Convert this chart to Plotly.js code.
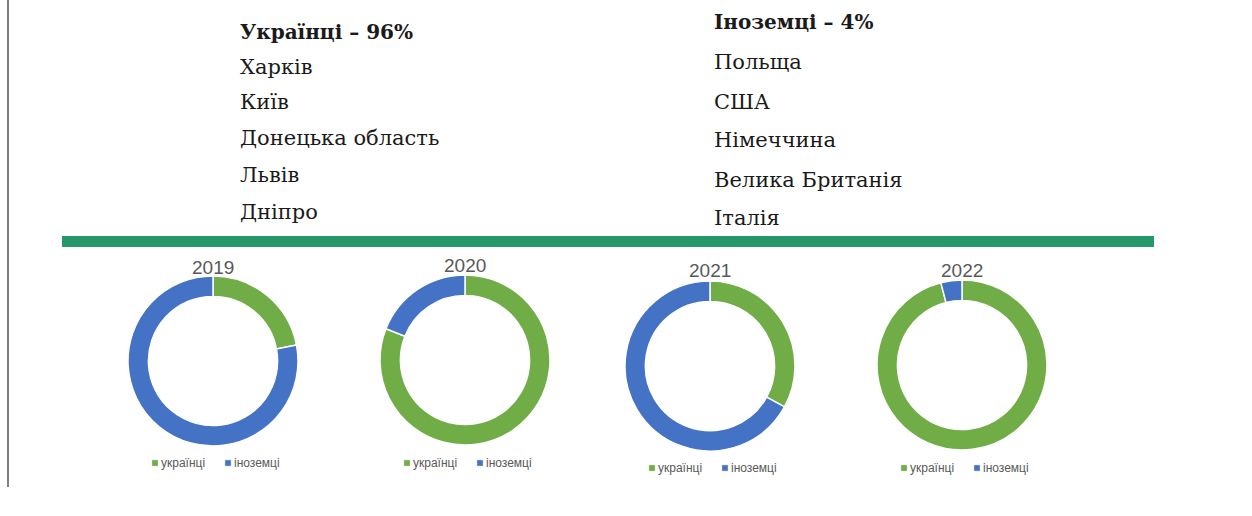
<!DOCTYPE html>
<html>
<head>
<meta charset="utf-8">
<script src="https://cdn.plot.ly/plotly-3.0.1.min.js"></script>
<style>html,body{margin:0;padding:0;background:#fff;}#chart{width:1252px;height:516px;}</style>
</head>
<body>
<div id="chart"></div>
<script>
// ---- data ----
const years = ['2019', '2020', '2021', '2022'];
const sliceLabels = ['українці', 'іноземці'];
const ukrainians = [22, 81, 33, 96];
const foreigners = [78, 19, 67, 4];
const leftHeading = 'Українці – 96%';
const leftItems = ['Харків', 'Київ', 'Донецька область', 'Львів', 'Дніпро'];
const rightHeading = 'Іноземці – 4%';
const rightItems = ['Польща', 'США', 'Німеччина', 'Велика Британія', 'Італія'];

// ---- layout helpers ----
const W = 1252, H = 516;
const px = x => x / W;
const py = y => 1 - y / H;
const sliceColors = ['#70ad47', '#4472c4'];
const grey = '#595959';

const centers = [[213, 361], [465, 360], [710, 366], [962, 365]];
const R = 85;
const titleY = [267, 265, 270, 270];
const legendY = [463, 463, 468, 468];

const traces = years.map((yr, i) => {
  const [cx, cy] = centers[i];
  return {
    type: 'pie',
    labels: sliceLabels,
    values: [ukrainians[i], foreigners[i]],
    sort: false,
    direction: 'clockwise',
    rotation: 0,
    hole: 0.76,
    textinfo: 'none',
    hoverinfo: 'label+percent',
    marker: {colors: sliceColors, line: {color: '#ffffff', width: 1.5}},
    domain: {x: [px(cx - R), px(cx + R)], y: [py(cy + R), py(cy - R)]},
    showlegend: false
  };
});

const annotations = [];
const shapes = [];
const sans = 'Liberation Sans, Arial, sans-serif';
years.forEach((yr, i) => {
  const [cx] = centers[i];
  annotations.push({
    xref: 'paper', yref: 'paper', x: px(cx), y: py(titleY[i]),
    xanchor: 'center', yanchor: 'middle', showarrow: false, text: yr,
    font: {family: sans, size: 19, color: grey}
  });
  // manual legend for each donut
  const ly = legendY[i];
  const offs = [-61, 12];
  sliceLabels.forEach((lab, k) => {
    const sx = cx + offs[k];
    shapes.push({
      type: 'rect', xref: 'paper', yref: 'paper',
      x0: px(sx), x1: px(sx + 6), y0: py(ly + 3), y1: py(ly - 3),
      fillcolor: sliceColors[k], line: {color: '#d0d0d0', width: 0.5}
    });
    annotations.push({
      xref: 'paper', yref: 'paper', x: px(sx + 7), y: py(ly),
      xanchor: 'left', yanchor: 'middle', showarrow: false, text: lab,
      font: {family: sans, size: 12, color: grey}
    });
  });
});
const serif = 'DejaVu Serif, serif';
const leftYs = [32, 67, 102, 138, 175, 212];
const rightYs = [22, 62, 102, 140, 180, 218];
[leftHeading].concat(leftItems).forEach((t, i) => {
  annotations.push({
    xref: 'paper', yref: 'paper', x: px(238), y: py(leftYs[i]),
    xanchor: 'left', yanchor: 'middle', showarrow: false,
    text: i === 0 ? '<b>' + t + '</b>' : t,
    font: {family: serif, size: i === 0 ? 20 : 21, color: '#1a1a1a'}
  });
});
[rightHeading].concat(rightItems).forEach((t, i) => {
  annotations.push({
    xref: 'paper', yref: 'paper', x: px(712), y: py(rightYs[i]),
    xanchor: 'left', yanchor: 'middle', showarrow: false,
    text: i === 0 ? '<b>' + t + '</b>' : t,
    font: {family: serif, size: i === 0 ? 20 : 21, color: '#1a1a1a'}
  });
});

shapes.push(
  {type: 'rect', xref: 'paper', yref: 'paper', x0: px(62), x1: px(1154), y0: py(247), y1: py(236),
   fillcolor: '#26966b', line: {width: 0}},
  {type: 'line', xref: 'paper', yref: 'paper', x0: px(8), x1: px(8), y0: py(0), y1: py(487),
   line: {color: '#555555', width: 1.5}}
);

const layout = {
  width: W, height: H,
  margin: {l: 0, r: 0, t: 0, b: 0},
  paper_bgcolor: '#ffffff',
  plot_bgcolor: '#ffffff',
  showlegend: false,
  annotations: annotations,
  shapes: shapes
};

Plotly.newPlot('chart', traces, layout, {displayModeBar: false, staticPlot: true});
</script>
</body>
</html>
